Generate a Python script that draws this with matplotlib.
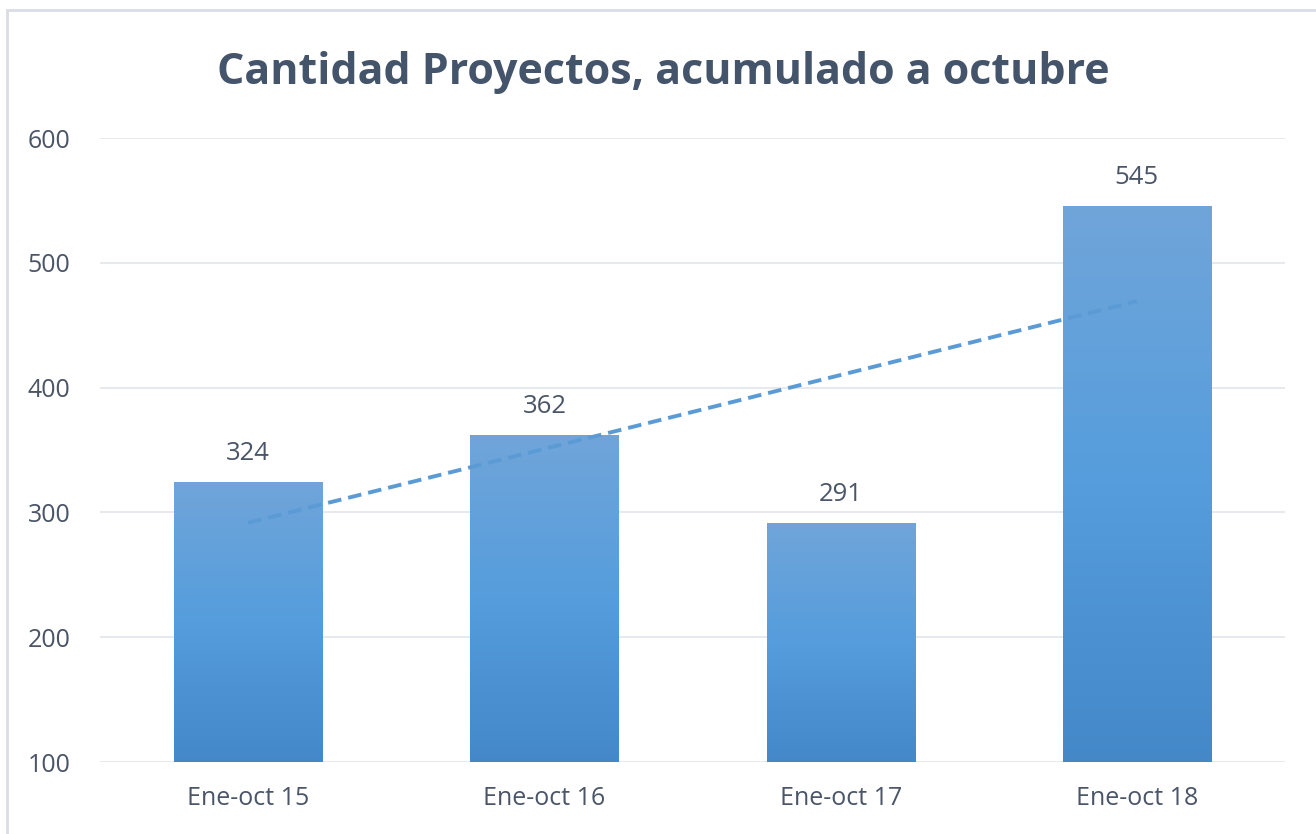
import numpy as np
import matplotlib
matplotlib.use("Agg")
import matplotlib.pyplot as plt
from matplotlib.colors import LinearSegmentedColormap
from matplotlib.patches import Rectangle

categories = ["Ene-oct 15", "Ene-oct 16", "Ene-oct 17", "Ene-oct 18"]
values = [324, 362, 291, 545]
yticks = [100, 200, 300, 400, 500, 600]
title = "Cantidad Proyectos, acumulado a octubre"

text_color = "#4a5568"
fig = plt.figure(figsize=(13.16, 8.34), dpi=100)
fig.patch.set_facecolor("white")
# chart border
fig.add_artist(Rectangle((7/1316, -0.1), 1.2, 1 - 10/834 + 0.1, transform=fig.transFigure,
                         fill=False, edgecolor="#d9dee5", linewidth=2))

ax = fig.add_axes([100/1316, 1 - 762/834, 1185/1316, (762 - 138)/834])
ax.set_xlim(-0.5, 3.5)
ax.set_ylim(100, 600)

cmap = LinearSegmentedColormap.from_list("g", ["#4488c8", "#559ddd", "#70a5d9"])
grad = np.linspace(0, 1, 256).reshape(-1, 1)
w = 0.5
x = np.arange(len(values))
for xi, v in zip(x, values):
    ax.imshow(grad, extent=[xi - w/2, xi + w/2, 100, v], origin="lower", cmap=cmap,
              aspect="auto", zorder=2, interpolation="bicubic")
    ax.text(xi, v + 13, str(v), ha="center", va="bottom", fontsize=18.5,
            color=text_color, family="Open Sans")

# linear trendline
coef = np.polyfit(x, values, 1)
ax.plot(x, np.polyval(coef, x), linestyle=(0, (3.5, 1.8)), color="#5b9bd5",
        linewidth=2.8, zorder=3)

ax.set_yticks(yticks)
ax.set_xticks(x)
ax.set_xticklabels(categories)
ax.grid(axis="y", color="#e2e6eb", linewidth=1.2, zorder=0)
ax.set_axisbelow(True)
for s in ax.spines.values():
    s.set_visible(False)
ax.tick_params(length=0, labelsize=18, colors=text_color)
ax.tick_params(axis="x", pad=17)
ax.tick_params(axis="y", pad=52)
for lab in ax.get_xticklabels() + ax.get_yticklabels():
    lab.set_family("Open Sans")
for lab in ax.get_yticklabels():
    lab.set_horizontalalignment("left")

fig.text(663/1316, 1 - 72/834, title, ha="center", va="center", fontsize=31,
         fontweight="bold", color="#44546a", family="Open Sans")

fig.savefig("out.png", dpi=100)
